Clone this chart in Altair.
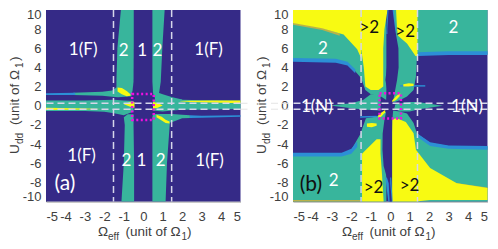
import altair as alt
import pandas as pd

DARK, GREEN, YEL, BLUE, OLIVE = "#352a87", "#38b59c", "#f8fa12", "#2c8fd6", "#b9b24a"
TXT = "#404040"
FONT = "Liberation Sans"
W, H = 194.5, 191.5

x_ticks = list(range(-5, 6))
y_ticks = list(range(-10, 11, 2))

# ---------- panel (a): areas along y (y, left x, right x)
a_ul = ([10, 6, 2.5, 1.6, 1.2], [-1.15, -1.33, -1.38, -1.38, -1.2], [-0.49, -0.49, -0.5, -0.55, -0.6])
a_ur = ([10, 6, 2.5, 1.4, 0.9], [0.47, 0.47, 0.47, 0.5, 0.55], [1.10, 0.98, 0.9, 0.82, 0.75])
a_ll = ([-10, -6, -2, -1.2, -0.9], [-1.12, -1.0, -0.95, -1.0, -0.8], [-0.47, -0.47, -0.5, -0.5, -0.5])
a_lr = ([-10, -6, -2, -1.2, -0.9], [0.47, 0.47, 0.47, 0.47, 0.5], [1.15, 1.22, 1.36, 1.4, 0.9])
# panel (a): areas along x (x, low y, high y)
a_band_l = ([-5, -3, -2, -1.5, -1.0, -0.5], [-0.55, -0.55, -0.62, -0.78, -1.0, -0.6], [0.55, 0.55, 0.6, 0.62, 0.55, 0.5])
a_thin_l = ([-3.6, -2.1, -1.6, -1.3, -0.6], [1.12, 1.05, 0.95, 0.9, 1.0], [1.36, 1.45, 1.6, 2.0, 1.3])
a_blue_l = ([-5, -3.5], [1.12, 1.12], [1.3, 1.36])
a_band_r = ([0.5, 1, 1.5, 2, 3, 5], [-0.5, -0.6, -0.5, -0.42, -0.42, -0.35], [0.5, 0.8, 0.7, 0.62, 0.58, 0.55])
a_wedge_r = ([0.6, 1, 1.5, 2.0], [0.4, 0.4, 0.4, 0.4], [1.5, 1.2, 0.9, 0.65])
a_band_lr = ([0.5, 1.0, 1.5, 2.0, 2.4], [-2, -1.9, -1.7, -1.3, -1.28], [-0.9, -0.85, -0.85, -0.95, -1.0])
a_blue_r = ([2.4, 3, 5], [-1.28, -1.25, -1.15], [-1.0, -1.05, -1.0])
a_yel = [
    ([-1.32, -1.1, -0.85, -0.66], [1.5, 1.2, 1.0, 1.05], [1.9, 1.85, 1.55, 1.2]),
    ([0.68, 0.95, 1.15, 1.35], [-1.2, -1.55, -1.8, -1.85], [-0.95, -1.15, -1.45, -1.65]),
    ([-1.0, -0.6, -0.45], [0.15, -0.15, -0.2], [0.15, 0.45, 0.4]),
    ([0.5, 0.75, 1.0], [-0.3, -0.2, 0.02], [0.4, 0.3, 0.02]),
    ([-5, -3.5, -2.1], [-0.45, -0.42, -0.35], [-0.2, -0.25, -0.33]),
    ([1.9, 2.4, 3.5, 5], [0.48, 0.38, 0.33, 0.25], [0.5, 0.52, 0.55, 0.55]),
]
a_text_x = [-3.09, 3.36, -3.17, 3.41, -1.0, -0.06, 0.73, -0.86, -0.09, 0.9]
a_text_y = [5.83, 5.83, -5.3, -5.75, 5.76, 5.76, 5.76, -5.72, -5.72, -5.72]
a_text = ["1(F)", "1(F)", "1(F)", "1(F)", "2", "1", "2", "2", "1", "2"]

# ---------- panel (b)
b_tl = ([-5, -2.9, -2.3, -1.8, -1.5, -1.28, -1.0, -0.5, -0.2], [4.9, 4.8, 4.5, 3.6, 2.9, 1.65, 1.2, 1.0, 0.6])
b_tr = ([0.1, 0.51, 0.86, 1.2, 1.32, 1.37, 1.4, 5], [0.3, 0.6, 0.96, 1.65, 3.04, 5.1, 5.4, 5.4])
b_bl = ([-5, -2.5, -2, -1.55, -1.25, -0.9, -0.5, -0.2], [-5.0, -5.0, -4.6, -3.0, -1.3, -1.2, -1.0, -0.6])
b_br = ([0.1, 0.5, 0.86, 1.2, 1.37, 2.05, 3, 5], [-0.5, -0.6, -0.8, -1.8, -2.87, -3.9, -4.2, -4.26])
b_wing_l = ([-3, -2, -1.4, -1, -0.5], [0, -0.25, -0.4, -0.45, -0.5], [0.05, 0.25, 0.6, 1.2, 1.2])
b_wing_r = ([0.2, 0.5, 1, 1.42, 2, 2.7], [-0.3, -0.6, -0.6, -0.4, -0.2, 0.0], [0.1, 0.25, 0.4, 0.4, 0.2, 0.0])
b_blue = [
    ([-5, -2.8, -2.2, -1.8], [4.6, 4.5, 4.2, 3.4], [5.0, 4.9, 4.6, 3.8]),
    ([1.4, 3, 5], [5.2, 5.3, 5.3], [5.6, 5.7, 5.7]),
    ([-5, -2.5, -2, -1.7], [-5.3, -5.3, -5.0, -4.3], [-4.9, -4.9, -4.5, -3.7]),
    ([1.37, 2.05, 3, 5], [-3.2, -4.2, -4.5, -4.6], [-2.87, -3.8, -4.15, -4.2]),
    ([-1.55, -0.7], [-1.25, -1.2], [-1.1, -1.05]),
    ([0.5, 1.8], [2.0, 2.0], [2.15, 2.15]),
]
b_yel_along_x = [
    ([-5, -3.5, -2.4, -1.7, -1.5], [8.65, 8.1, 7.45, 5.9, 5.0], [10, 10, 10, 10, 10]),
    ([0.1, 0.34, 0.8, 1.2, 1.32, 2.05, 3.42, 5], [-10, -10, -10, -10, -10, -9.85, -9.85, -9.85],
     [-1.4, -1.3, -1.7, -2.87, -4.6, -6.5, -8.09, -8.6]),
]
b_yel_along_y = [
    ([10, 8, 6, 4, 2, 1.65], [-1.5, -1.5, -1.5, -1.36, -1.28, -1.0], [-0.14, -0.3, -0.36, -0.36, -0.36, -0.6]),
    ([10, 8, 7.3, 6.5, 5.2], [0.3, 0.35, 0.4, 0.86, 1.3], [1.4, 1.4, 1.4, 1.4, 1.4]),
    ([-10, -7, -5, -4.7, -3.5], [-1.45, -1.45, -1.45, -1.3, -0.7], [-0.34, -0.43, -0.5, -0.5, -0.5]),
]
b_olive = [
    ([-5, -1.5], [-10, -10], [-9.85, -9.85]),
    ([-5, -3.5, -2.6], [8.45, 7.9, 7.3], [8.7, 8.15, 7.55]),
    ([3, 4, 5], [-8.15, -8.5, -8.75], [-7.95, -8.25, -8.55]),
]
b_spindle_y = [10, 8, 6, 4, 2.7, 1.6, 0.5, 0, -0.5, -1.5, -2.9, -4.6, -6.3, -7.3, -8.1, -10]
b_spindle_l = [-0.09, -0.15, -0.14, -0.17, -0.25, -0.15, -0.2, -0.25, -0.2, -0.3, -0.39, -0.4, -0.34, -0.2, -0.08, -0.03]
b_spindle_r = [0.12, 0.25, 0.42, 0.43, 0.35, 0.25, 0.15, 0.25, 0.15, 0.1, 0.09, 0.09, 0, 0, 0, 0.08]
b_blue_top = ([10, 7.5], [-0.14, -0.2], [0.18, 0.3])
b_blue_bot = ([-10, -7.5], [-0.1, -0.25], [0.12, 0.05])
b_streaks = [
    ([0.10, 0.3, 0.51], [0.4, 0.6, 1.05], [0.55, 1.0, 1.33]),
    ([-0.62, -0.45, -0.26], [-1.27, -1.1, -0.7], [-1.0, -0.7, -0.44]),
    ([-1.2, -0.95, -0.7], [-2.2, -2.25, -2.1], [-1.85, -1.8, -1.85]),
    ([0.67, 0.95, 1.2], [2.0, 2.0, 2.05], [2.25, 2.35, 2.3]),
]
b_text_w_x = [-3.46, 3.25, -2.91, -3.77, 3.95]
b_text_w_y = [5.93, 8.09, -7.9, -0.15, -0.15]
b_text_w = ["2", "2", "2", "1(N)", "1(N)"]
b_text_k_x = [-1.08, 0.77, -0.86, 0.99]
b_text_k_y = [8.09, 7.74, -8.54, -8.33]
b_text_k = [">2", ">2", ">2", ">2"]

# ---------- guide lines
a_vlines = [-1.53, 1.46]
a_hlines = [0.26, -0.36]
a_box = ([-0.57], [0.54], [-1.48], [1.23])
b_vlines = [-1.5, 1.4]
b_hlines = [0.26, -0.36]
b_box = ([-0.55], [0.55], [-1.34], [1.3])

xs = alt.Scale(domain=[-5, 5], nice=False, zero=False)
ys = alt.Scale(domain=[-10, 10], nice=False, zero=False)
AX = alt.Axis(values=x_ticks, labelExpr="'' + datum.value", grid=False, tickSize=0, title=None,
              labelFontSize=13, labelColor=TXT, labelFont=FONT, labelPadding=9,
              labelOverlap=False, domainColor="#777777", domainWidth=0.8)
AY = alt.Axis(values=y_ticks, labelExpr="'' + datum.value", grid=False, tickSize=0, title=None,
              labelFontSize=13, labelColor=TXT, labelFont=FONT, labelPadding=5,
              labelOverlap=False, labelFlush=True, labelFlushOffset=2,
              domainColor="#777777", domainWidth=0.8)


def X(f):
    return alt.X(f, scale=xs, axis=AX)


def Y(f):
    return alt.Y(f, scale=ys, axis=AY)


def along_x(t, color):
    d = pd.DataFrame({"x": t[0], "lo": t[1], "hi": t[2]})
    return alt.Chart(d).mark_area(color=color, orient="vertical").encode(
        x=X("x:Q"), y=Y("lo:Q"), y2="hi:Q")


def along_y(t, color):
    d = pd.DataFrame({"y": t[0], "l": t[1], "r": t[2]})
    return alt.Chart(d).mark_area(color=color, orient="horizontal").encode(
        y=Y("y:Q"), x=X("l:Q"), x2="r:Q")


def top_fill(t, top):
    return (t[0], t[1], [top] * len(t[0]))


def background():
    d = pd.DataFrame({"x": [-5], "x2": [5], "y": [-10], "y2": [10]})
    return alt.Chart(d).mark_rect(color=DARK).encode(x=X("x:Q"), x2="x2:Q", y=Y("y:Q"), y2="y2:Q")


def guides(vl, hl, box, ext):
    color = "#d6d6ea"
    v = alt.Chart(pd.DataFrame({"x": vl})).mark_rule(color=color, strokeWidth=1.5, strokeDash=[7, 4]).encode(x=X("x:Q"))
    h = alt.Chart(pd.DataFrame({"y": hl})).mark_rule(color=color, strokeWidth=1.5, strokeDash=[7, 4]).encode(y=Y("y:Q"))
    e = alt.Chart(pd.DataFrame({"y": hl})).mark_rule(color="#e4e4e4", strokeWidth=1, strokeDash=[7, 4]).encode(
        y=Y("y:Q"), x=alt.value(ext[0]), x2=alt.value(ext[1]))
    m = alt.Chart(pd.DataFrame({"a": box[0], "b": box[1], "c": box[2], "d": box[3]})).mark_rect(
        fillOpacity=0, stroke="#f010e0", strokeWidth=2.5, strokeDash=[2, 2.5]).encode(
        x=X("a:Q"), x2="b:Q", y=Y("c:Q"), y2="d:Q")
    return [v, h, e, m]


def labels(px, py, texts, color, size=17, font="Lato"):
    d = pd.DataFrame({"x": px, "y": py, "t": texts})
    return alt.Chart(d).mark_text(color=color, fontSize=size, font=font).encode(
        x=X("x:Q"), y=Y("y:Q"), text="t:N")


def piece(text, px, py, size, angle=0):
    return alt.Chart(pd.DataFrame({"t": [text]})).mark_text(
        color=TXT, font=FONT, fontSize=size, align="left", baseline="alphabetic", angle=angle).encode(
        x=alt.value(px), y=alt.value(py), text="t:N")


def titles(dx):
    b = 226
    return [
        piece("Ω", 52 + dx, b, 13.5), piece("eff", 62 + dx, b + 4, 10),
        piece("(unit of Ω", 79.5 + dx, b, 13.5), piece("1", 135.5 + dx, b + 4, 10),
        piece(")", 141 + dx, b, 13.5),
        piece("U", -27, 144, 13.5, 270), piece("dd", -23, 134, 10, 270),
        piece("(unit of Ω", -27, 115, 13.5, 270), piece("1", -23, 58, 10, 270),
        piece(")", -27, 51, 13.5, 270),
    ]


panel_a = alt.layer(
    background(),
    along_y(a_ul, GREEN), along_y(a_ur, GREEN), along_y(a_ll, GREEN), along_y(a_lr, GREEN),
    along_x(a_band_l, GREEN), along_x(a_thin_l, GREEN), along_x(a_blue_l, BLUE),
    along_x(a_band_r, GREEN), along_x(a_wedge_r, GREEN), along_x(a_band_lr, GREEN), along_x(a_blue_r, BLUE),
    *[along_x(t, YEL) for t in a_yel],
    *guides(a_vlines, a_hlines, a_box, (W, W + 10)),
    labels(a_text_x, a_text_y, a_text, "#ffffff"),
    labels([-4.03], [-8.15], ["(a)"], "#ffffff", 21),
    *titles(0),
).properties(width=W, height=H)

panel_b = alt.layer(
    background(),
    along_x(top_fill(b_tl, 10), GREEN), along_x(top_fill(b_tr, 10), GREEN),
    along_x(top_fill(b_bl, -10), GREEN), along_x(top_fill(b_br, -10), GREEN),
    along_x(b_wing_l, GREEN), along_x(b_wing_r, GREEN),
    *[along_x(t, BLUE) for t in b_blue],
    *[along_x(t, OLIVE) for t in b_olive],
    *[along_x(t, YEL) for t in b_yel_along_x],
    *[along_y(t, YEL) for t in b_yel_along_y],
    along_y(b_blue_top, BLUE), along_y(b_blue_bot, BLUE),
    along_y((b_spindle_y, b_spindle_l, b_spindle_r), DARK),
    *[along_x(t, YEL) for t in b_streaks],
    *guides(b_vlines, b_hlines, b_box, (-22, 0)),
    labels(b_text_w_x, b_text_w_y, b_text_w, "#ffffff"),
    labels(b_text_k_x, b_text_k_y, b_text_k, "#111111"),
    labels([-4.08], [-8.26], ["(b)"], "#111111", 21),
    *titles(-3),
).properties(width=W, height=H)

chart = alt.hconcat(panel_a, panel_b, spacing=4).properties(padding=0).configure_view(stroke=None)
chart.save("out.html", embed_options={"renderer": "svg", "actions": False})
